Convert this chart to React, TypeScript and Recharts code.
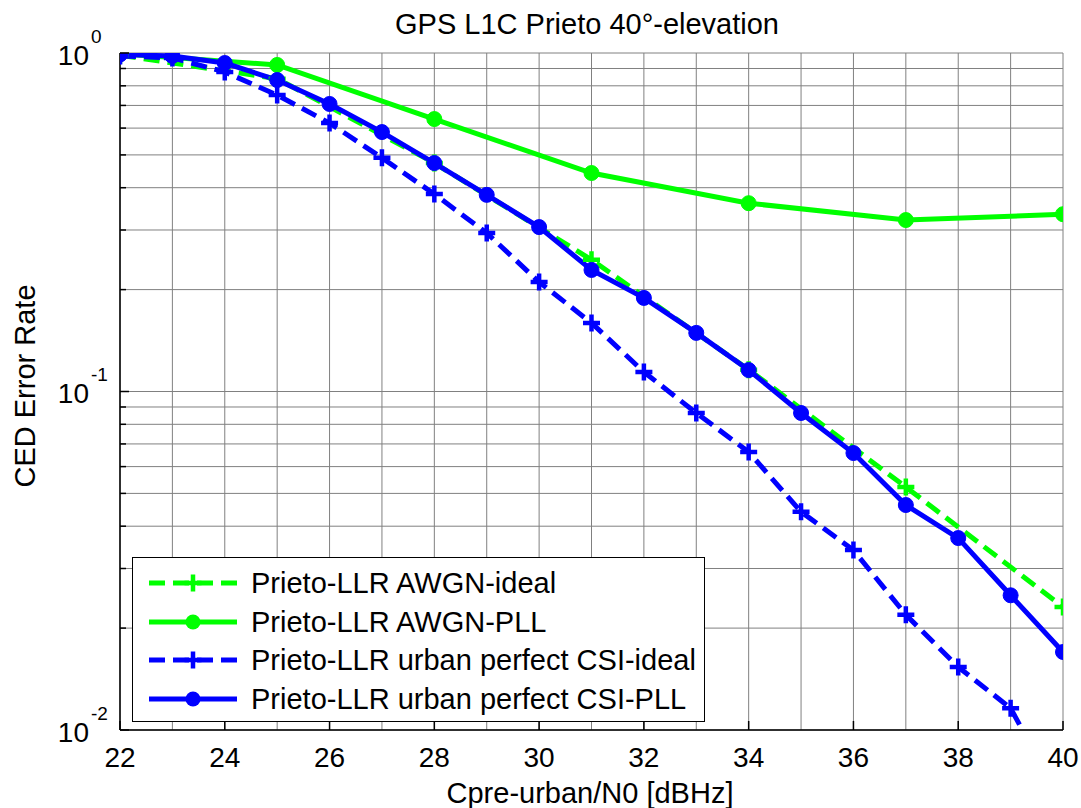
import { LineChart, Line, XAxis, YAxis, CartesianGrid } from 'recharts'

// x values (C/N0, dBHz)
const snrAll = [22, 23, 24, 25, 26, 27, 28, 29, 30, 31, 32, 33, 34, 35, 36, 37, 38, 39, 40]
const snrStep3 = [22, 25, 28, 31, 34, 37, 40]

// CED error rate per series
const awgnIdeal = [0.985, 0.84, 0.473, 0.245, 0.116, 0.0522, 0.0231]
const awgnPll = [0.995, 0.922, 0.638, 0.442, 0.36, 0.321, 0.334]
const csiIdeal = [0.98, 0.967, 0.879, 0.751, 0.621, 0.49, 0.383, 0.294, 0.2106, 0.1594, 0.1142, 0.0864, 0.0663, 0.0441, 0.034, 0.0219, 0.01535, 0.0116, 0.006]
const csiPll = [0.99, 0.98, 0.934, 0.832, 0.707, 0.584, 0.473, 0.381, 0.306, 0.2286, 0.189, 0.149, 0.1157, 0.0864, 0.0658, 0.0462, 0.0369, 0.025, 0.017]

const xTicks = [22, 23, 24, 25, 26, 27, 28, 29, 30, 31, 32, 33, 34, 35, 36, 37, 38, 39, 40]
const yTicks = [
  0.01, 0.02, 0.03, 0.04, 0.05, 0.06, 0.07, 0.08, 0.09,
  0.1, 0.2, 0.3, 0.4, 0.5, 0.6, 0.7, 0.8, 0.9, 1,
]
const decadeExp: Record<string, string> = { '0.01': '-2', '0.1': '-1', '1': '0' }

const toRows = (xs: number[], ys: number[]) => xs.map((x, i) => ({ x, y: ys[i] }))

const GREEN = '#00ff00'
const BLUE = '#0000ff'
const FONT = '"Liberation Sans", Arial, sans-serif'

const series = [
  { name: 'Prieto-LLR AWGN-ideal', color: GREEN, dashed: true, marker: 'plus', data: toRows(snrStep3, awgnIdeal) },
  { name: 'Prieto-LLR AWGN-PLL', color: GREEN, dashed: false, marker: 'circle', data: toRows(snrStep3, awgnPll) },
  { name: 'Prieto-LLR urban perfect CSI-ideal', color: BLUE, dashed: true, marker: 'plus', data: toRows(snrAll, csiIdeal) },
  { name: 'Prieto-LLR urban perfect CSI-PLL', color: BLUE, dashed: false, marker: 'circle', data: toRows(snrAll, csiPll) },
]

const plusPath = (cx: number, cy: number, r: number) =>
  `M${cx - r},${cy}L${cx + r},${cy}M${cx},${cy - r}L${cx},${cy + r}`

const makeDot = (color: string, marker: string) => (p: any) => {
  if (p.cx == null || p.cy == null) return <g key={p.index} />
  if (marker === 'circle') {
    return <circle key={p.index} cx={p.cx} cy={p.cy} r={7.5} fill={color} stroke={color} strokeWidth={1} />
  }
  return <path key={p.index} d={plusPath(p.cx, p.cy, 8.5)} stroke={color} strokeWidth={4.5} fill="none" />
}

const BottomTick = ({ x, y, payload }: any) => {
  const v = payload.value
  if (v % 2 !== 0) return <g />
  return (
    <g>
      <line x1={x} x2={x} y1={y} y2={y - 9} stroke="#000" strokeWidth={1.5} />
      <text x={x} y={y + 27} textAnchor="middle" dominantBaseline="central" fontSize={28} fontFamily={FONT} fill="#000">
        {v}
      </text>
    </g>
  )
}

const TopTick = ({ x, y, payload }: any) => {
  if (payload.value % 2 !== 0) return <g />
  return <line x1={x} x2={x} y1={y} y2={y + 9} stroke="#000" strokeWidth={1.5} />
}

const LeftTick = ({ x, y, payload }: any) => {
  const exp = decadeExp[String(payload.value)]
  return (
    <g>
      <line x1={x} x2={x + (exp ? 9 : 6)} y1={y} y2={y} stroke="#000" strokeWidth={1.5} />
      {exp && (
        <text fontFamily={FONT} fill="#000">
          <tspan x={x - 31} y={y + 2} textAnchor="end" dominantBaseline="central" fontSize={28}>10</tspan>
          <tspan x={x - 29} y={y - 17} textAnchor="start" dominantBaseline="central" fontSize={19}>{exp}</tspan>
        </text>
      )}
    </g>
  )
}

const RightTick = ({ x, y, payload }: any) => {
  const exp = decadeExp[String(payload.value)]
  return <line x1={x} x2={x - (exp ? 9 : 6)} y1={y} y2={y} stroke="#000" strokeWidth={1.5} />
}

const LegendSample = ({ color, dashed, marker }: any) => (
  <svg width={92} height={20} style={{ display: 'block' }}>
    <line x1={2} x2={90} y1={10} y2={10} stroke={color} strokeWidth={5} strokeDasharray={dashed ? '16 8' : undefined} />
    {marker === 'circle' ? (
      <circle cx={46} cy={10} r={7.5} fill={color} />
    ) : (
      <path d={plusPath(46, 10, 8.5)} stroke={color} strokeWidth={4.5} fill="none" />
    )}
  </svg>
)

export default function App() {
  return (
    <div style={{ position: 'absolute', left: 0, top: 0, width: 1081, height: 808, background: '#fff', fontFamily: FONT }}>
      <LineChart width={1081} height={808} margin={{ top: 53, right: 18, bottom: 38, left: 60 }}>
        <CartesianGrid stroke="#808080" strokeWidth={1} />
        <XAxis
          dataKey="x"
          type="number"
          domain={[22, 40]}
          ticks={xTicks}
          interval={0}
          height={40}
          tickSize={0}
          tickMargin={0}
          tick={<BottomTick />}
          axisLine={{ stroke: '#000', strokeWidth: 1.5 }}
          tickLine={false}
          allowDataOverflow
          label={{
            content: () => (
              <text x={590} y={793} textAnchor="middle" dominantBaseline="central" fontSize={29} fontFamily={FONT} fill="#000">
                Cpre-urban/N0 [dBHz]
              </text>
            ),
          }}
        />
        <XAxis
          xAxisId="top"
          orientation="top"
          dataKey="x"
          type="number"
          domain={[22, 40]}
          ticks={xTicks}
          interval={0}
          height={0}
          tickSize={0}
          tickMargin={0}
          tick={<TopTick />}
          axisLine={{ stroke: '#000', strokeWidth: 1.5 }}
          tickLine={false}
          allowDataOverflow
        />
        <YAxis
          type="number"
          scale="log"
          domain={[0.01, 1]}
          ticks={yTicks}
          interval={0}
          width={60}
          tickSize={0}
          tickMargin={0}
          tick={<LeftTick />}
          axisLine={{ stroke: '#000', strokeWidth: 1.5 }}
          tickLine={false}
          allowDataOverflow
          label={{
            content: () => (
              <text
                x={25}
                y={386}
                transform="rotate(-90 25 386)"
                textAnchor="middle"
                dominantBaseline="central"
                fontSize={29}
                fontFamily={FONT}
                fill="#000"
              >
                CED Error Rate
              </text>
            ),
          }}
        />
        <YAxis
          yAxisId="right"
          orientation="right"
          type="number"
          scale="log"
          domain={[0.01, 1]}
          ticks={yTicks}
          interval={0}
          width={0}
          tickSize={0}
          tickMargin={0}
          tick={<RightTick />}
          axisLine={{ stroke: '#000', strokeWidth: 1.5 }}
          tickLine={false}
          allowDataOverflow
        />
        {series.map(s => (
          <Line
            key={s.name}
            data={s.data}
            dataKey="y"
            name={s.name}
            type="linear"
            stroke={s.color}
            strokeWidth={5}
            strokeDasharray={s.dashed ? '16 8' : undefined}
            dot={makeDot(s.color, s.marker)}
            activeDot={false}
            isAnimationActive={false}
          />
        ))}
      </LineChart>

      <div
        style={{
          position: 'absolute',
          left: 0,
          top: 24,
          width: 1174,
          textAlign: 'center',
          fontSize: 29,
          lineHeight: '29px',
          transform: 'translateY(-50%)',
          color: '#000',
        }}
      >
        GPS L1C Prieto 40°-elevation
      </div>

      <div
        style={{
          position: 'absolute',
          left: 132,
          top: 557,
          width: 573,
          height: 165,
          boxSizing: 'border-box',
          border: '1.5px solid #000',
          background: '#fff',
        }}
      >
        {series.map((s, i) => (
          <div
            key={s.name}
            style={{
              position: 'absolute',
              left: 14,
              top: 25 + i * 38.5,
              transform: 'translateY(-50%)',
              display: 'flex',
              alignItems: 'center',
              whiteSpace: 'nowrap',
            }}
          >
            <LegendSample color={s.color} dashed={s.dashed} marker={s.marker} />
            <span style={{ marginLeft: 12, fontSize: 29, lineHeight: '32px', color: '#000' }}>{s.name}</span>
          </div>
        ))}
      </div>
    </div>
  )
}
